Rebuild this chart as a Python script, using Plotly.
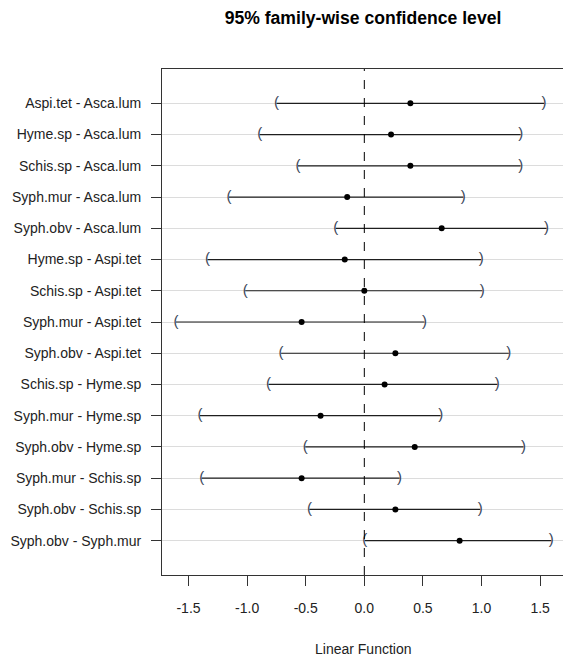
import plotly.graph_objects as go

comparisons = [
    "Aspi.tet - Asca.lum", "Hyme.sp - Asca.lum", "Schis.sp - Asca.lum",
    "Syph.mur - Asca.lum", "Syph.obv - Asca.lum", "Hyme.sp - Aspi.tet",
    "Schis.sp - Aspi.tet", "Syph.mur - Aspi.tet", "Syph.obv - Aspi.tet",
    "Schis.sp - Hyme.sp", "Syph.mur - Hyme.sp", "Syph.obv - Hyme.sp",
    "Syph.mur - Schis.sp", "Syph.obv - Schis.sp", "Syph.obv - Syph.mur",
]
estimate = [0.393, 0.228, 0.393, -0.146, 0.660, -0.167, 0.000, -0.535, 0.265,
            0.173, -0.373, 0.430, -0.535, 0.265, 0.813]
lower = [-0.749, -0.893, -0.566, -1.154, -0.244, -1.338, -1.016, -1.607, -0.710,
         -0.817, -1.402, -0.504, -1.387, -0.468, 0.004]
upper = [1.533, 1.334, 1.334, 0.844, 1.555, 0.997, 1.006, 0.513, 1.233,
         1.135, 0.651, 1.358, 0.301, 0.988, 1.595]
x_ticks = [-1.5, -1.0, -0.5, 0.0, 0.5, 1.0, 1.5]

pos = list(range(1, len(comparisons) + 1))

W, H = 563, 661
L, T, B = 162, 69, 86
plot_w = W - L
plot_h = H - T - B

fig = go.Figure()

seg_x, seg_y = [], []
for lo, hi, p in zip(lower, upper, pos):
    seg_x += [lo, hi, None]
    seg_y += [p, p, None]
fig.add_trace(go.Scatter(x=seg_x, y=seg_y, mode="lines",
                         line=dict(color="#1e1e1e", width=1.2),
                         hoverinfo="skip", showlegend=False))

fig.add_trace(go.Scatter(x=lower, y=pos, mode="text", text=["("] * len(pos),
                         textfont=dict(family="Liberation Sans", size=15, color="#3a4658"),
                         textposition="middle center", showlegend=False))
fig.add_trace(go.Scatter(x=upper, y=pos, mode="text", text=[")"] * len(pos),
                         textfont=dict(family="Liberation Sans", size=15, color="#3a4658"),
                         textposition="middle center", showlegend=False))

fig.add_trace(go.Scatter(x=estimate, y=pos, mode="markers",
                         marker=dict(color="black", size=6),
                         showlegend=False))

fig.add_shape(type="line", xref="x", yref="paper", x0=0, x1=0, y0=0, y1=1,
              line=dict(color="black", width=1, dash="dash"))

fig.update_layout(
    width=W, height=H,
    margin=dict(l=L, r=0, t=T, b=B, autoexpand=False),
    paper_bgcolor="white", plot_bgcolor="white",
    font=dict(family="Liberation Sans", size=14, color="#222222"),
    title=dict(text="<b>95% family-wise confidence level</b>",
               x=363 / W, xanchor="center", xref="container",
               y=1 - 18 / H, yanchor="middle", yref="container",
               font=dict(family="Liberation Sans", size=17.6, color="black")),
    xaxis=dict(range=[-1.726, 1.695], tickvals=x_ticks,
               ticktext=[f"{v:.1f}" for v in x_ticks],
               showgrid=False, zeroline=False,
               showline=True, mirror=True, linecolor="#333333", linewidth=1,
               ticks="outside", ticklen=10, tickcolor="#333333",
               ticklabelstandoff=10,
               tickfont=dict(size=14, color="#222222")),
    yaxis=dict(range=[16.1, -0.1], tickvals=pos, ticktext=comparisons,
               showgrid=True, gridcolor="#dcdcdc", gridwidth=1, zeroline=False,
               showline=True, linecolor="#333333", linewidth=1,
               ticks="outside", ticklen=10, tickcolor="#333333",
               ticklabelstandoff=7,
               tickfont=dict(size=14, color="#222222")),
    annotations=[dict(text="Linear Function", xref="paper", yref="paper",
                      x=(363 - L) / plot_w, y=-74 / plot_h, xanchor="center",
                      yanchor="middle", showarrow=False,
                      font=dict(size=14, color="#222222"))],
)

fig.write_html("out.html",
               config={"displayModeBar": False},
               post_script="document.body.style.margin='0';"
                           "document.body.style.overflow='hidden';")
